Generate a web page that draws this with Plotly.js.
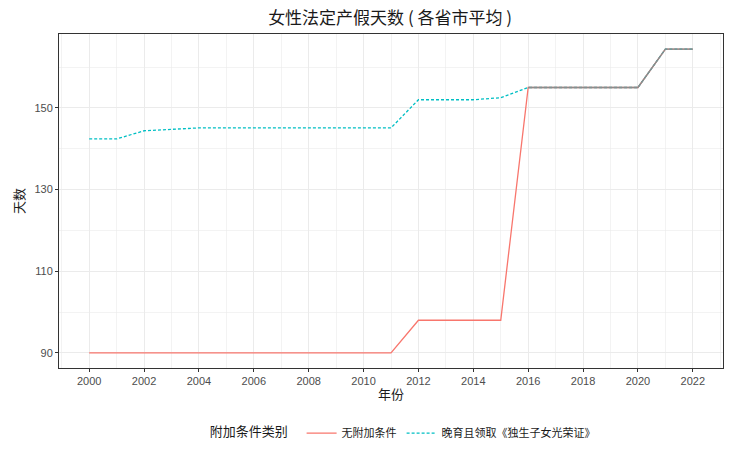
<!DOCTYPE html>
<html>
<head>
<meta charset="utf-8">
<script src="https://cdn.plot.ly/plotly-3.0.1.min.js"></script>
<style>body{margin:0;background:#fff}#chart{width:756px;height:452px}</style>
</head>
<body>
<div id="chart"></div>
<script>
const years = [2000,2001,2002,2003,2004,2005,2006,2007,2008,2009,2010,2011,2012,2013,2014,2015,2016,2017,2018,2019,2020,2021,2022];
const noCondition = [90,90,90,90,90,90,90,90,90,90,90,90,98,98,98,98,155,155,155,155,155,164.4,164.4];
const lateBirth = [142.4,142.4,144.4,144.8,145.1,145.1,145.1,145.1,145.1,145.1,145.1,145.1,152,152,152,152.5,155,155,155,155,155,164.4,164.4];
const seriesNames = ['无附加条件','晚育且领取《独生子女光荣证》'];
const xTicks = [2000,2002,2004,2006,2008,2010,2012,2014,2016,2018,2020,2022];
const yTicks = [90,110,130,150];

const overlap = noCondition.map((v,i)=> (v===lateBirth[i] ? v : null));

const FONT = 'Liberation Sans, Arial, Noto Sans CJK SC, sans-serif';
const CJK = 'Noto Sans CJK SC, sans-serif';

const traces = [
  {x: years, y: noCondition, name: seriesNames[0], mode: 'lines', type: 'scatter',
   line: {color: '#F8766D', width: 1.3}},
  {x: years, y: lateBirth, name: seriesNames[1], mode: 'lines', type: 'scatter',
   line: {color: '#00BFC4', width: 1.3, dash: '3px,2px'}},
  {x: years, y: overlap, name: 'overlap', mode: 'lines', type: 'scatter', showlegend: false,
   connectgaps: false, line: {color: '#8c8c8c', width: 1.3}}
];

const gridc = '#ebebeb';
const layout = {
  width: 756, height: 452,
  margin: {l: 59, r: 33, t: 34, b: 84, autoexpand: false},
  paper_bgcolor: '#fff', plot_bgcolor: '#fff',
  font: {family: FONT, color: '#4d4d4d', size: 11},
  title: {text: '女性法定产假天数 ( 各省市平均 )', x: 0.516, xanchor: 'center', y: 0.96, yanchor: 'middle',
          font: {family: CJK, size: 17, color: '#1a1a1a'}},
  xaxis: {
    range: [1998.9, 2023.1], tickvals: xTicks, ticktext: xTicks.map(String), automargin: false,
    showgrid: true, gridcolor: gridc, gridwidth: 1,
    minor: {dtick: 1, tick0: 1999, showgrid: true, gridcolor: gridc, gridwidth: 0.6},
    ticks: 'outside', ticklen: 3, tickcolor: '#333', tickwidth: 1,
    showline: true, linecolor: '#333', linewidth: 1, mirror: true, zeroline: false,
    tickfont: {family: FONT, size: 11, color: '#4d4d4d'},
    title: {text: '年份', font: {family: CJK, size: 13, color: '#1a1a1a'}, standoff: 3}
  },
  yaxis: {
    range: [86.3, 168.1], tickvals: yTicks, ticktext: yTicks.map(String), automargin: false,
    showgrid: true, gridcolor: gridc, gridwidth: 1,
    minor: {dtick: 10, tick0: 80, showgrid: true, gridcolor: gridc, gridwidth: 0.6},
    ticks: 'outside', ticklen: 3, tickcolor: '#333', tickwidth: 1,
    showline: true, linecolor: '#333', linewidth: 1, mirror: true, zeroline: false,
    tickfont: {family: FONT, size: 11, color: '#4d4d4d'},
    title: {text: '天数', font: {family: CJK, size: 13, color: '#1a1a1a'}, standoff: 6}
  },
  showlegend: true,
  legend: {orientation: 'h', x: 0.52, xanchor: 'center', y: -0.195, yanchor: 'middle',
           font: {family: CJK, size: 11, color: '#1a1a1a'},
           title: {text: '附加条件类别  ', font: {family: CJK, size: 13, color: '#1a1a1a'}, side: 'left'},
           itemwidth: 30, tracegroupgap: 0}
};

Plotly.newPlot('chart', traces, layout, {displayModeBar: false, staticPlot: true});
</script>
</body>
</html>
